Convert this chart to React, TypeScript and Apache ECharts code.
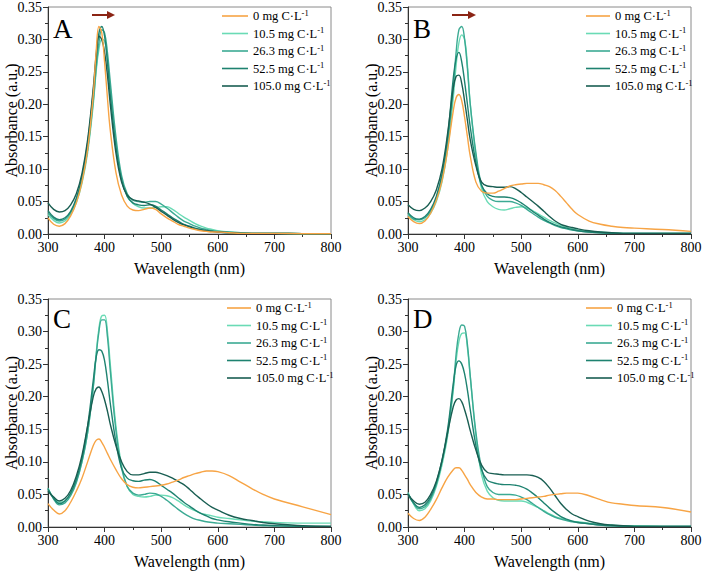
import React, { useEffect, useRef } from "react";
import * as echarts from "echarts";

const WAVELENGTHS = [300, 310, 320, 330, 340, 350, 360, 370, 380, 385, 390, 395, 400, 405, 410, 420, 430, 440, 450, 460, 470, 480, 490, 500, 510, 520, 530, 540, 550, 560, 570, 580, 590, 600, 620, 640, 660, 680, 700, 750, 800];

const SERIES_NAMES = ["0 mg C·L-1", "10.5 mg C·L-1", "26.3 mg C·L-1", "52.5 mg C·L-1", "105.0 mg C·L-1"];
const COLORS = ["#F7A445", "#6ADBB5", "#3BAA93", "#1E8270", "#195E52"];
const PANEL_LABELS = ["A", "B", "C", "D"];
const X_TICKS = [300, 400, 500, 600, 700, 800];
const Y_TICKS = [0, 0.05, 0.1, 0.15, 0.2, 0.25, 0.3, 0.35];
const X_TITLE = "Wavelength (nm)";
const Y_TITLE = "Absorbance (a.u.)";

// Panel A
const A_0 = [0.025, 0.015, 0.012, 0.016, 0.028, 0.048, 0.08, 0.13, 0.215, 0.28, 0.32, 0.31, 0.265, 0.21, 0.16, 0.095, 0.06, 0.043, 0.037, 0.036, 0.038, 0.04, 0.038, 0.031, 0.025, 0.02, 0.015, 0.012, 0.009, 0.007, 0.005, 0.004, 0.003, 0.003, 0.002, 0.001, 0.001, 0.001, 0.001, 0.0005, 0.0005];
const A_10 = [0.03, 0.021, 0.017, 0.02, 0.03, 0.048, 0.078, 0.125, 0.2, 0.25, 0.285, 0.3, 0.298, 0.27, 0.225, 0.14, 0.085, 0.058, 0.047, 0.042, 0.04, 0.04, 0.041, 0.042, 0.042, 0.038, 0.032, 0.026, 0.021, 0.016, 0.012, 0.009, 0.007, 0.005, 0.003, 0.002, 0.001, 0.001, 0.001, 0.0005, 0.0005];
const A_26 = [0.033, 0.024, 0.02, 0.023, 0.033, 0.052, 0.083, 0.13, 0.205, 0.255, 0.295, 0.315, 0.31, 0.28, 0.235, 0.15, 0.09, 0.062, 0.052, 0.05, 0.049, 0.05, 0.05, 0.046, 0.04, 0.033, 0.026, 0.02, 0.016, 0.012, 0.009, 0.007, 0.005, 0.004, 0.003, 0.002, 0.001, 0.001, 0.001, 0.0005, 0.0005];
const A_52 = [0.036, 0.026, 0.022, 0.025, 0.035, 0.055, 0.088, 0.14, 0.22, 0.27, 0.31, 0.32, 0.305, 0.265, 0.215, 0.135, 0.083, 0.058, 0.048, 0.045, 0.044, 0.045, 0.043, 0.037, 0.031, 0.025, 0.02, 0.015, 0.012, 0.009, 0.007, 0.005, 0.004, 0.003, 0.002, 0.001, 0.001, 0.001, 0.001, 0.0005, 0.0005];
const A_105 = [0.048, 0.038, 0.034, 0.036, 0.045, 0.062, 0.093, 0.145, 0.225, 0.275, 0.305, 0.3, 0.28, 0.245, 0.2, 0.125, 0.08, 0.06, 0.053, 0.051, 0.049, 0.046, 0.041, 0.035, 0.029, 0.023, 0.018, 0.014, 0.011, 0.008, 0.006, 0.005, 0.004, 0.003, 0.002, 0.001, 0.001, 0.001, 0.001, 0.0005, 0.0005];

// Panel B
const B_0 = [0.027, 0.019, 0.016, 0.02, 0.032, 0.052, 0.082, 0.13, 0.19, 0.21, 0.215, 0.205, 0.18, 0.15, 0.12, 0.08, 0.066, 0.063, 0.063, 0.066, 0.07, 0.074, 0.076, 0.077, 0.078, 0.078, 0.078, 0.076, 0.073, 0.067, 0.058, 0.048, 0.038, 0.03, 0.02, 0.015, 0.012, 0.01, 0.009, 0.007, 0.004];
const B_10 = [0.03, 0.022, 0.019, 0.022, 0.032, 0.05, 0.08, 0.13, 0.21, 0.26, 0.295, 0.307, 0.3, 0.26, 0.2, 0.12, 0.07, 0.05, 0.042, 0.038, 0.037, 0.039, 0.041, 0.042, 0.04, 0.036, 0.031, 0.026, 0.021, 0.017, 0.013, 0.01, 0.008, 0.006, 0.004, 0.003, 0.002, 0.001, 0.001, 0.001, 0.001];
const B_26 = [0.032, 0.023, 0.022, 0.025, 0.035, 0.055, 0.088, 0.14, 0.225, 0.28, 0.315, 0.32, 0.3, 0.255, 0.2, 0.125, 0.075, 0.058, 0.052, 0.05, 0.05, 0.05, 0.048, 0.044, 0.038, 0.032, 0.026, 0.021, 0.017, 0.013, 0.01, 0.008, 0.006, 0.005, 0.003, 0.002, 0.001, 0.001, 0.001, 0.001, 0.001];
const B_52 = [0.033, 0.025, 0.023, 0.027, 0.038, 0.058, 0.092, 0.15, 0.24, 0.27, 0.28, 0.265, 0.235, 0.2, 0.165, 0.11, 0.075, 0.062, 0.058, 0.057, 0.057, 0.056, 0.053, 0.048, 0.042, 0.035, 0.029, 0.023, 0.018, 0.014, 0.011, 0.009, 0.007, 0.005, 0.003, 0.002, 0.001, 0.001, 0.001, 0.001, 0.001];
const B_105 = [0.045, 0.038, 0.036, 0.04, 0.05, 0.068, 0.1, 0.155, 0.225, 0.243, 0.245, 0.232, 0.205, 0.175, 0.145, 0.105, 0.08, 0.074, 0.073, 0.072, 0.072, 0.073, 0.07, 0.064, 0.057, 0.05, 0.043, 0.035, 0.027, 0.02, 0.015, 0.012, 0.01, 0.008, 0.005, 0.003, 0.002, 0.001, 0.001, 0.001, 0.001];

// Panel C
const C_0 = [0.036, 0.026, 0.02, 0.025, 0.038, 0.055, 0.075, 0.1, 0.125, 0.133, 0.135, 0.13, 0.122, 0.113, 0.104, 0.088, 0.074, 0.065, 0.061, 0.06, 0.061, 0.062, 0.063, 0.064, 0.066, 0.069, 0.072, 0.076, 0.079, 0.082, 0.084, 0.086, 0.086, 0.085, 0.079, 0.069, 0.059, 0.05, 0.043, 0.031, 0.019];
const C_10 = [0.058, 0.045, 0.038, 0.04, 0.05, 0.07, 0.1, 0.145, 0.215, 0.265, 0.305, 0.324, 0.325, 0.3, 0.25, 0.155, 0.095, 0.062, 0.05, 0.047, 0.046, 0.047, 0.049, 0.049, 0.048, 0.045, 0.04, 0.034, 0.029, 0.025, 0.021, 0.019, 0.017, 0.015, 0.013, 0.011, 0.009, 0.008, 0.007, 0.006, 0.006];
const C_26 = [0.06, 0.043, 0.034, 0.037, 0.048, 0.068, 0.1, 0.145, 0.215, 0.262, 0.3, 0.318, 0.318, 0.292, 0.24, 0.148, 0.09, 0.062, 0.052, 0.049, 0.05, 0.052, 0.051, 0.047, 0.041, 0.034, 0.027, 0.021, 0.016, 0.012, 0.01, 0.008, 0.007, 0.006, 0.005, 0.004, 0.003, 0.002, 0.002, 0.001, 0.001];
const C_52 = [0.058, 0.044, 0.036, 0.04, 0.052, 0.073, 0.105, 0.155, 0.225, 0.26, 0.272, 0.27, 0.255, 0.225, 0.19, 0.13, 0.09, 0.075, 0.071, 0.07, 0.072, 0.073, 0.07, 0.064, 0.058, 0.052, 0.045, 0.038, 0.032, 0.026, 0.021, 0.017, 0.013, 0.011, 0.008, 0.006, 0.004, 0.003, 0.002, 0.001, 0.001];
const C_105 = [0.055, 0.046, 0.04, 0.044, 0.056, 0.078, 0.11, 0.155, 0.2, 0.212, 0.215, 0.208, 0.195, 0.178, 0.158, 0.125, 0.1, 0.085, 0.08, 0.08, 0.082, 0.084, 0.084, 0.082, 0.079, 0.075, 0.07, 0.065, 0.058, 0.05, 0.043, 0.036, 0.03, 0.026, 0.018, 0.013, 0.01, 0.007, 0.005, 0.002, 0.001];

// Panel D
const D_0 = [0.021, 0.013, 0.01, 0.015, 0.027, 0.042, 0.06, 0.076, 0.088, 0.091, 0.091, 0.087, 0.08, 0.073, 0.065, 0.053, 0.046, 0.043, 0.043, 0.042, 0.042, 0.042, 0.042, 0.043, 0.044, 0.045, 0.046, 0.047, 0.049, 0.05, 0.051, 0.052, 0.052, 0.052, 0.048, 0.042, 0.037, 0.035, 0.033, 0.03, 0.023];
const D_10 = [0.053, 0.035, 0.025, 0.028, 0.04, 0.062, 0.095, 0.14, 0.21, 0.255, 0.285, 0.297, 0.298, 0.275, 0.23, 0.14, 0.08, 0.055, 0.045, 0.041, 0.04, 0.04, 0.04, 0.04, 0.038, 0.034, 0.03, 0.025, 0.02, 0.016, 0.013, 0.011, 0.009, 0.008, 0.006, 0.004, 0.003, 0.002, 0.002, 0.001, 0.001];
const D_26 = [0.052, 0.036, 0.028, 0.031, 0.043, 0.065, 0.1, 0.145, 0.215, 0.265, 0.298, 0.31, 0.308, 0.28, 0.232, 0.145, 0.09, 0.062, 0.053, 0.05, 0.05, 0.05, 0.049, 0.046, 0.042, 0.036, 0.03, 0.024, 0.019, 0.015, 0.012, 0.01, 0.008, 0.007, 0.005, 0.003, 0.002, 0.002, 0.001, 0.001, 0.001];
const D_52 = [0.05, 0.037, 0.03, 0.034, 0.046, 0.068, 0.102, 0.15, 0.22, 0.248, 0.255, 0.25, 0.235, 0.21, 0.18, 0.125, 0.088, 0.072, 0.068, 0.066, 0.065, 0.065, 0.064, 0.062, 0.058, 0.052, 0.045, 0.037, 0.029, 0.022, 0.016, 0.012, 0.009, 0.007, 0.005, 0.003, 0.002, 0.001, 0.001, 0.001, 0.001];
const D_105 = [0.05, 0.04, 0.035, 0.038, 0.05, 0.07, 0.102, 0.145, 0.185, 0.195, 0.197, 0.192, 0.18, 0.165, 0.148, 0.118, 0.095, 0.084, 0.082, 0.081, 0.08, 0.08, 0.08, 0.08, 0.08, 0.079, 0.076, 0.07, 0.06, 0.048, 0.036, 0.027, 0.02, 0.016, 0.009, 0.005, 0.003, 0.002, 0.001, 0.001, 0.001];

const PANEL_DATA = [
  [A_0, A_10, A_26, A_52, A_105],
  [B_0, B_10, B_26, B_52, B_105],
  [C_0, C_10, C_26, C_52, C_105],
  [D_0, D_10, D_26, D_52, D_105],
];

const FONT = "'Liberation Serif', 'Times New Roman', 'DejaVu Serif', serif";

const GRIDS = [
  { left: 48, top: 7, width: 283, height: 227 },
  { left: 408, top: 7, width: 283, height: 227 },
  { left: 48, top: 299, width: 283, height: 228 },
  { left: 408, top: 299, width: 283, height: 228 },
];
const LEGEND_POS = [
  { left: 222, top: 8, w: 26 },
  { left: 586, top: 8, w: 24 },
  { left: 227, top: 300, w: 24 },
  { left: 586, top: 300, w: 26 },
];
const LABEL_POS = [
  { x: 53, y: 29 },
  { x: 413, y: 29 },
  { x: 53, y: 319 },
  { x: 413, y: 319 },
];
const ARROWS = [
  { x1: 92, x2: 115, y: 15 },
  { x1: 452, x2: 476, y: 15 },
];

export default function App() {
  const ref = useRef<HTMLDivElement>(null);
  useEffect(() => {
    document.body.style.margin = "0";
    const chart = echarts.init(ref.current!, undefined, { renderer: "svg" });

    const grid = GRIDS.map((g) => ({
      ...g,
      show: true,
      borderColor: "#8a8a8a",
      borderWidth: 1,
      backgroundColor: "transparent",
    }));

    const axisCommon = {
      axisLine: { show: true, onZero: false, lineStyle: { color: "#333", width: 1 } },
      axisTick: { show: true, inside: false, length: 5, lineStyle: { color: "#333" } },
      minorTick: { show: true, splitNumber: 2, length: 3, lineStyle: { color: "#333" } },
      splitLine: { show: false },
      axisLabel: { show: false },
    };

    const xAxis = GRIDS.map((_, i) => ({
      type: "value",
      gridIndex: i,
      min: 300,
      max: 800,
      interval: 100,
      ...axisCommon,
    }));

    const yAxis = GRIDS.map((_, i) => ({
      type: "value",
      gridIndex: i,
      min: 0,
      max: 0.35,
      interval: 0.05,
      ...axisCommon,
    }));

    const series: any[] = [];
    PANEL_DATA.forEach((panel, p) => {
      panel.forEach((vals, s) => {
        series.push({
          type: "line",
          name: SERIES_NAMES[s],
          xAxisIndex: p,
          yAxisIndex: p,
          data: WAVELENGTHS.map((w, k) => [w, vals[k]]),
          smooth: 0.4,
          symbol: "none",
          z: s === 0 ? 3 : 2 + s * 0.1,
          lineStyle: { color: COLORS[s], width: 1.4 },
          itemStyle: { color: COLORS[s] },
        });
      });
    });

    const legend = LEGEND_POS.map((l) => ({
      left: l.left,
      top: l.top,
      padding: 0,
      orient: "vertical",
      icon: "rect",
      itemWidth: l.w,
      itemHeight: 1.6,
      itemGap: 3,
      selectedMode: false,
      data: SERIES_NAMES,
      formatter: (n: string) => `{n|${n.replace(/-1$/, "")}}{sup|-1}`,
      textStyle: {
        fontFamily: FONT,
        fontSize: 12.5,
        color: "#000",
        rich: {
          n: { fontFamily: FONT, fontSize: 12.5, color: "#000", lineHeight: 16 },
          sup: { fontFamily: FONT, fontSize: 8.5, color: "#000", lineHeight: 9, verticalAlign: "top" },
        },
      },
    }));

    chart.setOption({
      animation: false,
      backgroundColor: "#fff",
      textStyle: { fontFamily: FONT },
      grid,
      xAxis,
      yAxis,
      series,
      legend,
    });

    const txt = (text: string, size: number, align: string) => ({
      text,
      fontFamily: FONT,
      fontSize: size,
      fill: "#000",
      align,
      verticalAlign: "middle",
    });

    // Axis texts placed with the library's own scales
    const graphic: any[] = [];
    GRIDS.forEach((g, i) => {
      const bottom = g.top + g.height;
      X_TICKS.forEach((v) => {
        const px = chart.convertToPixel({ xAxisIndex: i } as any, v) as number;
        graphic.push({ type: "text", x: px, y: bottom + 13, style: txt(String(v), 14, "center") });
      });
      Y_TICKS.forEach((v) => {
        const py = chart.convertToPixel({ yAxisIndex: i } as any, v) as number;
        graphic.push({ type: "text", x: g.left - 6, y: py, style: txt(v.toFixed(2), 14, "right") });
      });
      graphic.push({
        type: "text",
        x: g.left + g.width / 2,
        y: bottom + 34,
        style: txt(X_TITLE, 16, "center"),
      });
      graphic.push({
        type: "text",
        x: g.left - 37,
        y: g.top + g.height / 2,
        rotation: Math.PI / 2,
        style: txt(Y_TITLE, 16, "center"),
      });
    });
    LABEL_POS.forEach((pos, i) => {
      graphic.push({ type: "text", x: pos.x, y: pos.y, style: txt(PANEL_LABELS[i], 27, "left") });
    });
    ARROWS.forEach((a) => {
      graphic.push({
        type: "line",
        shape: { x1: a.x1, y1: a.y, x2: a.x2 - 6, y2: a.y },
        style: { stroke: "#8B2414", lineWidth: 2 },
      });
      graphic.push({
        type: "polygon",
        shape: { points: [[a.x2 - 8, a.y - 4], [a.x2, a.y], [a.x2 - 8, a.y + 4]] },
        style: { fill: "#8B2414" },
      });
    });
    chart.setOption({ graphic });

    return () => chart.dispose();
  }, []);
  return <div ref={ref} style={{ width: 702, height: 573, position: "absolute", left: 0, top: 0 }} />;
}
